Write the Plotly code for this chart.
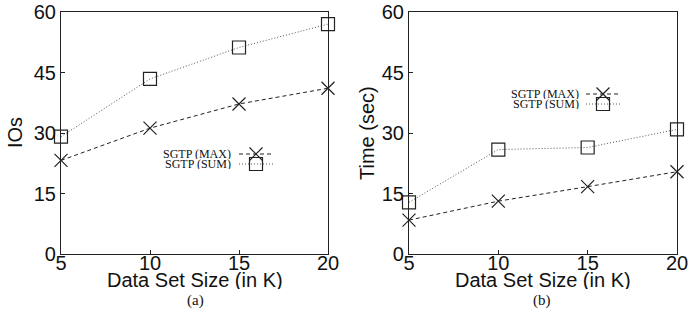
import plotly.graph_objects as go

x_sizes = [5, 10, 15, 20]
ios_max = [23.2, 31.2, 37.2, 41.1]
ios_sum = [29.1, 43.4, 51.2, 57.0]
time_max = [8.4, 13.1, 16.7, 20.4]
time_sum = [12.8, 25.9, 26.4, 30.9]
y_ticks = [0, 15, 30, 45, 60]
x_ticks = [5, 10, 15, 20]
series_names = ["SGTP (MAX)", "SGTP (SUM)"]
captions = ["(a)", "(b)"]
y_titles = ["IOs", "Time (sec)"]
x_title = "Data Set Size (in K)"

W, H = 689, 324


def px(rx):
    return rx / W


def py(ry):
    return 1 - ry / H


fig = go.Figure()

line_max = dict(color="#222", width=1, dash="4px,3px")
line_sum = dict(color="#555", width=1, dash="1px,2px")
mk_max = dict(symbol="x-thin-open", size=13, line=dict(color="#222", width=1.2), color="#222")
mk_sum = dict(symbol="square-open", size=13, line=dict(color="#222", width=1.2), color="#222")

for xa, ya, ymax, ysum in [("x", "y", ios_max, ios_sum), ("x2", "y2", time_max, time_sum)]:
    fig.add_trace(go.Scatter(x=x_sizes, y=ymax, mode="lines+markers", line=line_max,
                             marker=mk_max, xaxis=xa, yaxis=ya, showlegend=False, cliponaxis=False))
    fig.add_trace(go.Scatter(x=x_sizes, y=ysum, mode="lines+markers", line=line_sum,
                             marker=mk_sum, xaxis=xa, yaxis=ya, showlegend=False, cliponaxis=False))

ydom = [py(254), py(12)]
tfont = dict(family="Liberation Sans, Arial", size=20, color="#111")
common_ax = dict(showgrid=False, zeroline=False, showline=True, linecolor="#222", linewidth=1.2,
                 mirror=True, ticks="inside", ticklen=4, tickcolor="#222", automargin=False,
                 tickfont=tfont)
xcommon = dict(range=[5, 20], tickvals=x_ticks, ticklabelstandoff=-9, **common_ax)
ycommon = dict(domain=ydom, range=[0, 60], tickvals=y_ticks, **common_ax)
fig.update_layout(
    width=W, height=H, margin=dict(l=0, r=0, t=0, b=0),
    paper_bgcolor="white", plot_bgcolor="white",
    xaxis=dict(domain=[px(61), px(328)], anchor="y", **xcommon),
    yaxis=dict(anchor="x", **ycommon),
    xaxis2=dict(domain=[px(409), px(677)], anchor="y2", **xcommon),
    yaxis2=dict(anchor="x2", **ycommon),
)

# axis titles and captions
for cx, cap in [(195, captions[0]), (542, captions[1])]:
    fig.add_annotation(x=px(cx), y=py(300), xref="paper", yref="paper", text=cap,
                       showarrow=False, xanchor="center", yanchor="middle",
                       font=dict(family="Liberation Serif, Times New Roman", size=15, color="#111"))
for cx in [195, 543]:
    fig.add_annotation(x=px(cx), y=py(280), xref="paper", yref="paper", text=x_title,
                       showarrow=False, xanchor="center", yanchor="middle", font=tfont,
                       height=18, borderpad=0)
for cx, t in [(15, y_titles[0]), (367, y_titles[1])]:
    fig.add_annotation(x=px(cx), y=py(133), xref="paper", yref="paper", text=t, textangle=-90,
                       showarrow=False, xanchor="center", yanchor="middle", font=tfont)


# manual legends (text left of sample, gnuplot style)
def add_legend(text_right, line_l, line_r, mk_x, y_max, y_sum):
    for name, yy, dash, col, sym in [(series_names[0], y_max, "4px,3px", "#222", "x"),
                                     (series_names[1], y_sum, "1px,2px", "#555", "sq")]:
        fig.add_annotation(x=px(text_right), y=py(yy), xref="paper", yref="paper", text=name,
                           showarrow=False, xanchor="right", yanchor="middle", height=10, borderpad=0,
                           font=dict(family="Liberation Serif, Times New Roman", size=12, color="#111"))
        fig.add_shape(type="line", xref="paper", yref="paper", x0=px(line_l), x1=px(line_r),
                      y0=py(yy), y1=py(yy), line=dict(color=col, width=1, dash=dash))
        s = 6.5
        if sym == "x":
            fig.add_shape(type="line", xref="paper", yref="paper", x0=px(mk_x - s), x1=px(mk_x + s),
                          y0=py(yy - s), y1=py(yy + s), line=dict(color="#222", width=1.2))
            fig.add_shape(type="line", xref="paper", yref="paper", x0=px(mk_x - s), x1=px(mk_x + s),
                          y0=py(yy + s), y1=py(yy - s), line=dict(color="#222", width=1.2))
        else:
            fig.add_shape(type="rect", xref="paper", yref="paper", x0=px(mk_x - s), x1=px(mk_x + s),
                          y0=py(yy - s), y1=py(yy + s), line=dict(color="#222", width=1.2),
                          fillcolor="rgba(0,0,0,0)")


add_legend(232, 239, 273, 256, 154, 164)
add_legend(580, 586, 620, 603, 94, 104)

fig.write_html("out.html", config={"displayModeBar": False},
               post_script="document.body.style.margin='0';")
